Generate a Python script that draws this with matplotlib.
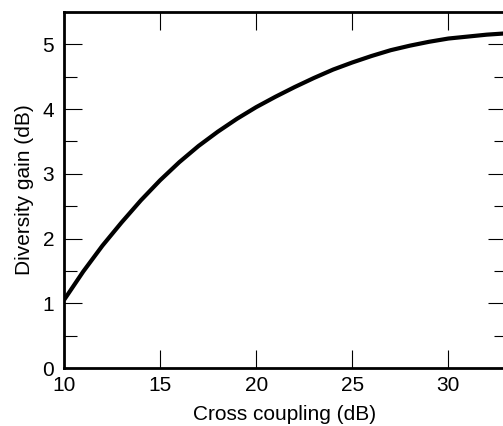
import matplotlib
matplotlib.use("Agg")
import matplotlib.pyplot as plt
from matplotlib.ticker import MultipleLocator

plt.rcParams['font.family'] = ['Liberation Sans', 'DejaVu Sans']

# datos
cross_coupling = [10, 11, 12, 13, 14, 15, 16, 17, 18, 19, 20, 21,
                  22, 23, 24, 25, 26, 27, 28, 29, 30, 31, 32, 33]
diversity_gain = [1.05, 1.49, 1.89, 2.25, 2.59, 2.90, 3.18, 3.43, 3.65, 3.85, 4.03, 4.19,
                  4.34, 4.48, 4.61, 4.72, 4.82, 4.91, 4.98, 5.04, 5.09, 5.12, 5.15, 5.17]
x_ticks = [10, 15, 20, 25, 30]
y_ticks = [0, 1, 2, 3, 4, 5]

fig = plt.figure(figsize=(5.03, 4.26), dpi=100)
# el eje derecho queda justo fuera de la imagen, como en el original
ax = fig.add_axes([64 / 503, 58 / 426, 442 / 503, 356 / 426])

ax.plot(cross_coupling, diversity_gain, color='black', linewidth=3.0,
        solid_capstyle='butt', clip_on=True)

ax.set_xlim(10, 33)
ax.set_ylim(0, 5.5)
ax.set_xticks(x_ticks)
ax.set_yticks(y_ticks)
ax.yaxis.set_minor_locator(MultipleLocator(0.5))

for side in ax.spines.values():
    side.set_linewidth(2.0)

ax.tick_params(axis='both', which='major', direction='in', length=13, width=0.8,
               labelsize=15, top=True, right=True)
ax.tick_params(axis='y', which='minor', direction='in', length=9, width=0.8,
               left=True, right=True)
ax.tick_params(axis='y', which='major', pad=7)
ax.tick_params(axis='x', which='major', pad=6)

ax.set_xlabel('Cross coupling (dB)', fontsize=15, labelpad=7)
ax.set_ylabel('Diversity gain (dB)', fontsize=15, labelpad=6)

fig.savefig('out.png', dpi=100)
